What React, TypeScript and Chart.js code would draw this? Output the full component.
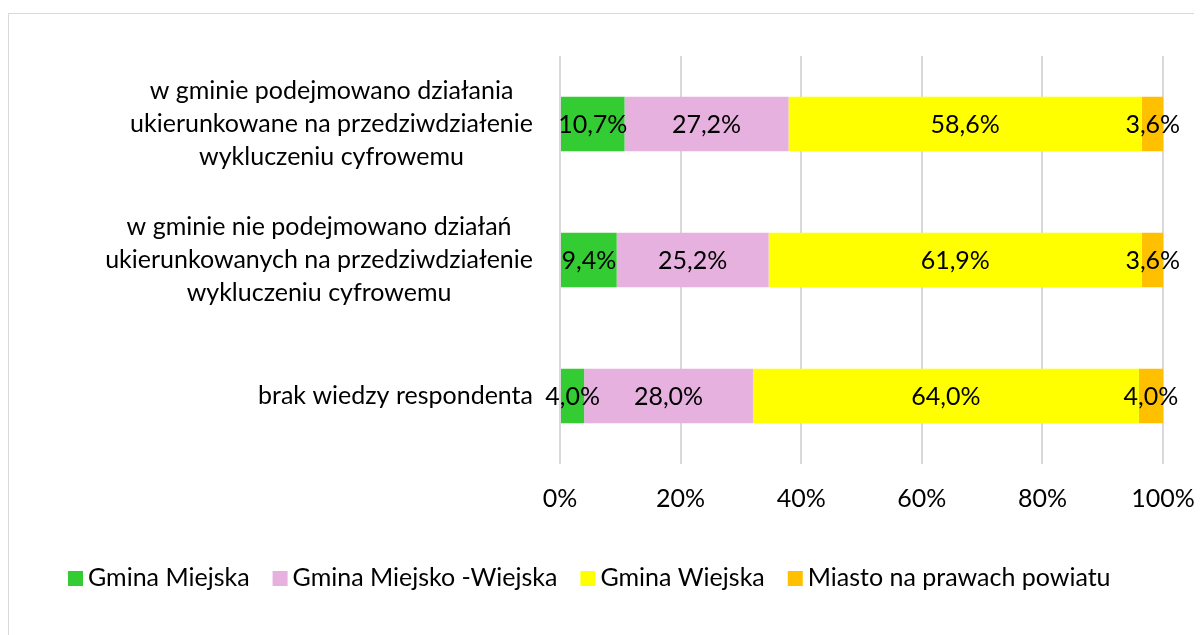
import React, { useEffect, useRef } from "react";
import { Chart, registerables } from "chart.js";

Chart.register(...registerables);

const categories: string[][] = [
  ["w gminie podejmowano działania", "ukierunkowane na przedziwdziałenie", "wykluczeniu cyfrowemu"],
  ["w gminie nie podejmowano działań", "ukierunkowanych na przedziwdziałenie", "wykluczeniu cyfrowemu"],
  ["brak wiedzy respondenta"],
];
const seriesNames = ["Gmina Miejska", "Gmina Miejsko -Wiejska", "Gmina Wiejska", "Miasto na prawach powiatu"];
const gminaMiejska = [10.7, 9.4, 4.0];
const gminaMiejskoWiejska = [27.2, 25.2, 28.0];
const gminaWiejska = [58.6, 61.9, 64.0];
const miasto = [3.6, 3.6, 4.0];
const seriesColors = ["#33CC33", "#E6B0DF", "#FFFF00", "#FFC000"];
const tickValues = [0, 20, 40, 60, 80, 100];

const FONT_FAMILY = "Lato, 'Noto Sans', sans-serif";
const FONT_SIZE = 25;

const fmt = (v: number) => v.toFixed(1).replace(".", ",") + "%";

export default function App() {
  const ref = useRef<HTMLCanvasElement | null>(null);
  useEffect(() => {
    if (!ref.current) return;
    const font = `${FONT_SIZE}px ${FONT_FAMILY}`;

    const dataLabels = {
      id: "dataLabels",
      afterDatasetsDraw(chart: any) {
        const ctx = chart.ctx;
        ctx.save();
        ctx.font = font;
        ctx.fillStyle = "#000";
        ctx.textAlign = "center";
        ctx.textBaseline = "middle";
        chart.data.datasets.forEach((ds: any, di: number) => {
          const meta = chart.getDatasetMeta(di);
          meta.data.forEach((el: any, i: number) => {
            const x = (el.x + el.base) / 2;
            ctx.fillText(fmt(ds.data[i]), x, el.y + 1);
          });
        });
        ctx.restore();
      },
    };

    const catLabels = {
      id: "catLabels",
      afterDraw(chart: any) {
        const ctx = chart.ctx;
        const yScale = chart.scales.y;
        ctx.save();
        ctx.font = font;
        ctx.fillStyle = "#000";
        ctx.textAlign = "center";
        ctx.textBaseline = "middle";
        const right = 524;
        const lh = 33;
        categories.forEach((lines, i) => {
          const yc = yScale.getPixelForValue(i);
          const maxW = Math.max(...lines.map((l) => ctx.measureText(l).width));
          const cx = right - maxW / 2;
          lines.forEach((l, j) => {
            ctx.fillText(l, cx, yc + (j - (lines.length - 1) / 2) * lh);
          });
        });
        ctx.restore();
      },
    };

    const legendPlugin = {
      id: "customLegend",
      afterDraw(chart: any) {
        const ctx = chart.ctx;
        ctx.save();
        ctx.font = font;
        ctx.textBaseline = "middle";
        ctx.textAlign = "left";
        let x = 59;
        const y = 564;
        seriesNames.forEach((name, i) => {
          ctx.fillStyle = seriesColors[i];
          ctx.fillRect(x, y - 7, 15, 15);
          x += 20;
          ctx.fillStyle = "#000";
          ctx.fillText(name, x, y);
          x += ctx.measureText(name).width + 23;
        });
        ctx.restore();
      },
    };

    const chart = new Chart(ref.current, {
      type: "bar",
      data: {
        labels: categories.map((c) => c.join(" ")),
        datasets: [gminaMiejska, gminaMiejskoWiejska, gminaWiejska, miasto].map((d, i) => ({
          label: seriesNames[i],
          data: d,
          backgroundColor: seriesColors[i],
          borderWidth: 0,
          categoryPercentage: 0.4,
          barPercentage: 1,
        })),
      },
      options: {
        indexAxis: "y",
        animation: false,
        responsive: false,
        layout: { padding: { left: 551, right: 39, top: 42, bottom: 111 } },
        plugins: {
          legend: { display: false },
          tooltip: { enabled: false },
        },
        scales: {
          x: {
            stacked: true,
            min: 0,
            max: 100,
            afterBuildTicks(scale: any) {
              scale.ticks = tickValues.map((v) => ({ value: v }));
            },
            afterFit(scale: any) {
              scale.height = 60;
              scale.paddingLeft = 0;
              scale.paddingRight = 0;
            },
            grid: { color: "#D9D9D9", lineWidth: 2, drawTicks: false },
            border: { display: false },
            ticks: {
              padding: 20,
              color: "#000",
              font: { family: FONT_FAMILY, size: FONT_SIZE },
              callback: (v: any) => v + "%",
              maxRotation: 0,
            },
          },
          y: {
            stacked: true,
            display: false,
          },
        },
      },
      plugins: [dataLabels, catLabels, legendPlugin],
    });
    return () => chart.destroy();
  }, []);

  return (
    <div
      style={{
        marginTop: 5,
        width: 1193,
        height: 621,
        borderTop: "1px solid #D9D9D9",
        borderLeft: "1px solid #D9D9D9",
        overflow: "hidden",
      }}
    >
      <canvas ref={ref} width={1193} height={621} style={{ display: "block" }} />
    </div>
  );
}
